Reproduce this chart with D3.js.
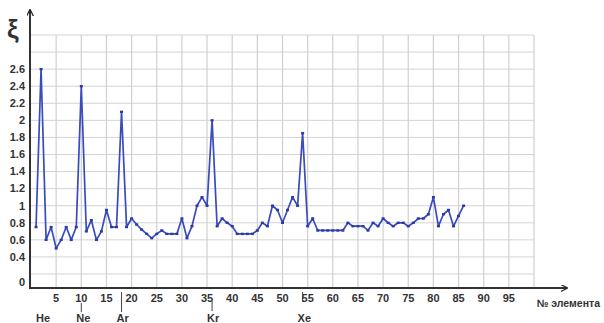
<!DOCTYPE html>
<html>
<head>
<meta charset="utf-8">
<script src="https://cdn.jsdelivr.net/npm/d3@7/dist/d3.min.js"></script>
<style>
  html, body { margin: 0; padding: 0; background: #fff; }
  svg { display: block; }
  text { font-family: "Liberation Sans", Arial, sans-serif; font-weight: bold; fill: #333; }
</style>
</head>
<body>
<svg id="chart" width="604" height="323"></svg>
<script>
// Atomic numbers 1..86
const elements = d3.range(1, 87);
// ξ value for each element
const xiValues = [
  0.75, 2.6, 0.6, 0.75, 0.5, 0.6, 0.75, 0.6, 0.75, 2.4,
  0.7, 0.83, 0.6, 0.7, 0.95, 0.75, 0.75, 2.1, 0.75, 0.85,
  0.78, 0.72, 0.67, 0.62, 0.67, 0.71, 0.67, 0.67, 0.67, 0.85,
  0.62, 0.76, 1.0, 1.1, 1.0, 2.0, 0.76, 0.85, 0.8, 0.76,
  0.67, 0.67, 0.67, 0.67, 0.71, 0.8, 0.76, 1.0, 0.95, 0.8,
  0.95, 1.1, 1.0, 1.85, 0.76, 0.85, 0.71, 0.71, 0.71, 0.71,
  0.71, 0.71, 0.8, 0.76, 0.76, 0.76, 0.71, 0.8, 0.76, 0.85,
  0.8, 0.76, 0.8, 0.8, 0.76, 0.8, 0.85, 0.85, 0.9, 1.1,
  0.76, 0.9, 0.95, 0.76, 0.88, 1.0
];
const xTicks = [5, 10, 15, 20, 25, 30, 35, 40, 45, 50, 55, 60, 65, 70, 75, 80, 85, 90, 95];
const yTicks = [0, 0.4, 0.6, 0.8, 1, 1.2, 1.4, 1.6, 1.8, 2, 2.2, 2.4, 2.6];
const gridY = d3.range(0.2, 3.01, 0.2);
const gridX = d3.range(5, 101, 5);
const nobleSymbols = ["He", "Ne", "Ar", "Kr", "Xe"];
const nobleNumbers = [2, 10, 18, 36, 54];
const xTitle = "№ элемента";
const yTitle = "ξ";

const svg = d3.select("#chart");
const axisY = 288, axisX = 30;

const x = d3.scaleLinear().domain([0, 100]).range([31, 534]);
// the "0" label sits just under the 0.2 gridline, the rest of the scale is linear
const y = d3.scaleLinear().domain([0, 0.2, 3.0]).range([282, 274, 35]);

// grid
svg.append("g").selectAll("line.h").data(gridY).join("line")
  .attr("x1", axisX).attr("x2", x(100))
  .attr("y1", d => y(d)).attr("y2", d => y(d))
  .attr("stroke", "#d4d4d4").attr("stroke-width", 1);
svg.append("g").selectAll("line.v").data(gridX).join("line")
  .attr("x1", d => x(d)).attr("x2", d => x(d))
  .attr("y1", y(3.0)).attr("y2", axisY)
  .attr("stroke", "#d0d0d0").attr("stroke-width", 1.2);

// axes with arrows
const defs = svg.append("defs");
defs.append("marker").attr("id", "arr").attr("viewBox", "0 0 10 10")
  .attr("refX", 9).attr("refY", 5).attr("markerWidth", 7).attr("markerHeight", 7)
  .attr("markerUnits", "userSpaceOnUse").attr("orient", "auto")
  .append("path").attr("d", "M0,0 L10,5 L0,10").attr("fill", "none")
  .attr("stroke", "#222").attr("stroke-width", 1.8);

svg.append("line").attr("x1", axisX - 1).attr("x2", 567).attr("y1", axisY).attr("y2", axisY)
  .attr("stroke", "#333").attr("stroke-width", 2).attr("marker-end", "url(#arr)");
svg.append("line").attr("x1", axisX).attr("x2", axisX).attr("y1", axisY + 1).attr("y2", 10)
  .attr("stroke", "#333").attr("stroke-width", 2).attr("marker-end", "url(#arr)");

// tick labels
svg.append("g").selectAll("text").data(yTicks).join("text")
  .attr("x", 25).attr("y", d => y(d)).attr("dy", "0.35em")
  .attr("text-anchor", "end").attr("font-size", 11)
  .text(d => String(d));
svg.append("g").selectAll("text").data(xTicks).join("text")
  .attr("x", d => x(d)).attr("y", 298).attr("dy", "0.35em")
  .attr("text-anchor", "middle").attr("font-size", 11)
  .text(d => String(d));

// axis titles
svg.append("text").attr("x", 7).attr("y", 38).attr("font-size", 26)
  .attr("fill", "#222").text(yTitle);
svg.append("text").attr("x", 600).attr("y", 307).attr("text-anchor", "end")
  .attr("font-size", 10.5).text(xTitle);

// noble gas markers under the axis
const noble = nobleSymbols.map((s, i) => ({ s, z: nobleNumbers[i] }));
const lineSpan = { He: null, Ne: [303, 312], Ar: [292, 312], Kr: [301, 311], Xe: [292, 302] };
svg.append("g").selectAll("line").data(noble.filter(d => lineSpan[d.s])).join("line")
  .attr("x1", d => x(d.z)).attr("x2", d => x(d.z))
  .attr("y1", d => lineSpan[d.s][0]).attr("y2", d => lineSpan[d.s][1])
  .attr("stroke", "#444").attr("stroke-width", 1);
svg.append("g").selectAll("text").data(noble).join("text")
  .attr("x", d => x(d.z) - 5).attr("y", 318).attr("dy", "0.35em")
  .attr("font-size", 11).text(d => d.s);

// data line
const pts = elements.map((z, i) => [z, xiValues[i]]);
svg.append("path").datum(pts)
  .attr("d", d3.line().x(d => x(d[0])).y(d => y(d[1])))
  .attr("fill", "none").attr("stroke", "#3a4bbd").attr("stroke-width", 1.7)
  .attr("stroke-linejoin", "round");
svg.append("g").selectAll("rect").data(pts).join("rect")
  .attr("x", d => x(d[0]) - 1.5).attr("y", d => y(d[1]) - 1.2)
  .attr("width", 3).attr("height", 2.4).attr("fill", "#2a3aa8");
</script>
</body>
</html>
